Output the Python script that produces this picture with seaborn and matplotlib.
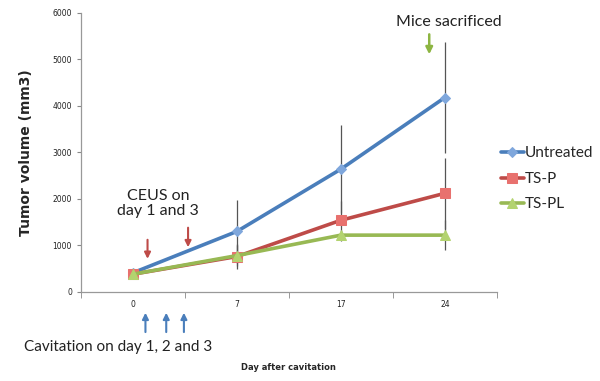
import matplotlib
matplotlib.use("Agg")
import matplotlib.pyplot as plt
import seaborn as sns
import pandas as pd

days = ["0", "7", "17", "24"]
untreated = [410, 1300, 2640, 4180]
ts_p = [380, 760, 1540, 2120]
ts_pl = [380, 780, 1220, 1220]
err_untreated = [60, 670, 950, 1190]
err_ts_p = [90, 260, 420, 760]
err_ts_pl = [70, 220, 120, 330]
series_names = ["Untreated", "TS-P", "TS-PL"]

sns.set_style("white")
plt.rcParams['font.family'] = ['Lato', 'DejaVu Sans']

rows = []
for name, vals in zip(series_names, [untreated, ts_p, ts_pl]):
    for d, v in zip(days, vals):
        rows.append({"day": d, "volume": v, "series": name})
df = pd.DataFrame(rows)

fig = plt.figure(figsize=(6, 3.81), dpi=100)
ax = fig.add_axes([0.135, 0.234, 0.693, 0.732])

line_cols = {"Untreated": "#4A7EBB", "TS-P": "#BE4B48", "TS-PL": "#98B954"}
face_cols = {"Untreated": "#7FA7DC", "TS-P": "#E8716E", "TS-PL": "#B3D36F"}
markers = {"Untreated": "D", "TS-P": "s", "TS-PL": "^"}
msize = {"Untreated": 5, "TS-P": 7, "TS-PL": 7}

# error bars (behind lines)
for name, vals, errs in zip(series_names, [untreated, ts_p, ts_pl],
                             [err_untreated, err_ts_p, err_ts_pl]):
    ax.errorbar(days, vals, yerr=errs, fmt="none", ecolor="#555555",
                elinewidth=0.9, capsize=0, zorder=1)

for name in series_names:
    sub = df[df.series == name]
    sns.lineplot(data=sub, x="day", y="volume", ax=ax, color=line_cols[name],
                 linewidth=2.6, marker=markers[name], markersize=msize[name],
                 markerfacecolor=face_cols[name], markeredgecolor=face_cols[name],
                 label=name, sort=False, zorder=3)

ax.set_xlim(-0.5, 3.5)
ax.set_ylim(0, 6000)
ax.set_yticks([0, 1000, 2000, 3000, 4000, 5000, 6000])
ax.tick_params(axis="both", labelsize=5.5, colors="#222222")
for lab in ax.get_xticklabels() + ax.get_yticklabels():
    lab.set_family("DejaVu Sans")
ax.tick_params(axis="y", length=3, color="#888888", left=True)
ax.tick_params(axis="x", which="major", length=0, pad=6)
ax.set_xticks([-0.5, 0.5, 1.5, 2.5, 3.5], minor=True)
ax.tick_params(axis="x", which="minor", length=4, color="#888888", bottom=True)
for s in ["top", "right"]:
    ax.spines[s].set_visible(False)
for s in ["left", "bottom"]:
    ax.spines[s].set_color("#999999")
    ax.spines[s].set_linewidth(0.9)

ax.set_ylabel("Tumor volume (mm3)", fontsize=10, fontweight="bold", labelpad=14,
              family="DejaVu Sans")
ax.set_xlabel("Day after cavitation", fontsize=6, fontweight="bold",
              family="DejaVu Sans")
ax.xaxis.set_label_coords(0.5, -0.255)

leg = ax.legend(loc="center left", bbox_to_anchor=(0.995, 0.405), frameon=False,
                fontsize=11, handlelength=1.5, handletextpad=0.05,
                labelspacing=0.75, borderaxespad=0.0)

# annotations
ax.text(0.24, 1900, "CEUS on\nday 1 and 3", ha="center", va="center",
        fontsize=11.5, color="#222222", linespacing=1.15)
for xp, y0, y1 in [(0.14, 1180, 650), (0.53, 1440, 900)]:
    ax.annotate("", xy=(xp, y1), xytext=(xp, y0),
                arrowprops=dict(arrowstyle="-|>", color="#BE4B48", lw=1.5,
                                mutation_scale=9))
ax.annotate("", xy=(2.85, 5050), xytext=(2.85, 5600),
            arrowprops=dict(arrowstyle="-|>", color="#8DB542", lw=1.8,
                            mutation_scale=10))
ax.text(3.04, 5800, "Mice sacrificed", ha="center", va="center",
        fontsize=11.5, color="#222222")
for xp in [0.12, 0.32, 0.49]:
    ax.annotate("", xy=(xp, -390), xytext=(xp, -925),
                arrowprops=dict(arrowstyle="-|>", color="#4A7EBB", lw=1.5,
                                mutation_scale=9),
                annotation_clip=False)
ax.text(-0.14, -1190, "Cavitation on day 1, 2 and 3", ha="center", va="center",
        fontsize=11, color="#222222")

fig.savefig("out.png", dpi=100)
